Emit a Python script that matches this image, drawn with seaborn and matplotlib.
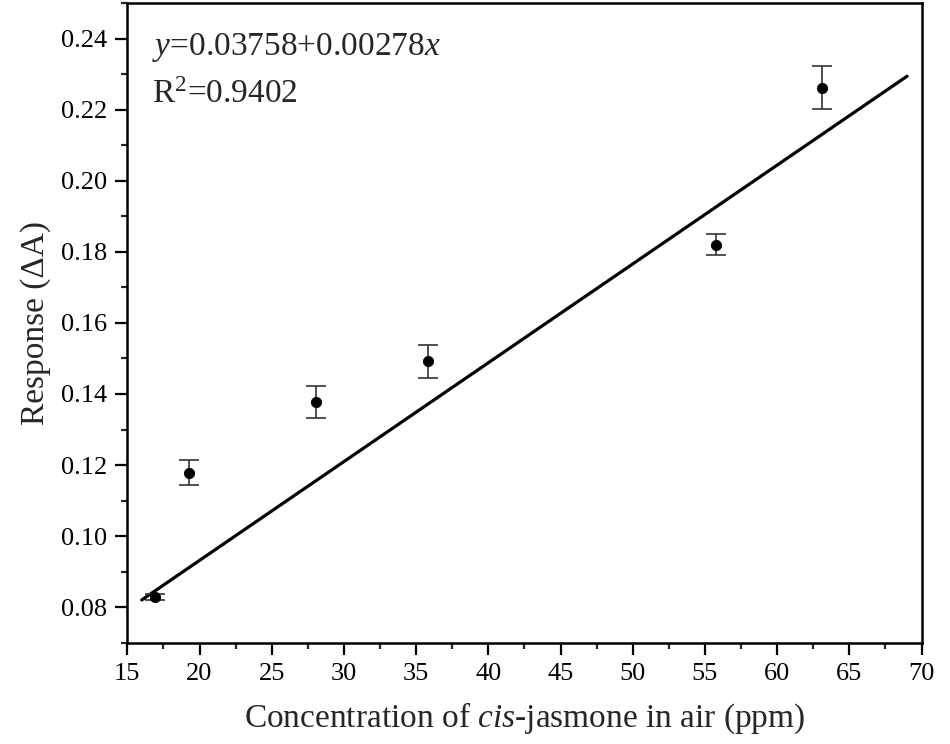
import numpy as np
import pandas as pd
import seaborn as sns
import matplotlib
matplotlib.use("Agg")
import matplotlib.pyplot as plt
from matplotlib.ticker import MultipleLocator, FormatStrFormatter

# veriler
conc = [16.9, 19.3, 28.1, 35.8, 55.8, 63.1]
response = [0.0829, 0.1179, 0.1378, 0.1492, 0.1820, 0.2262]
err = [0.0008, 0.0034, 0.0045, 0.0047, 0.0030, 0.0060]

# dogrusal uyum parametreleri
intercept = 0.03758
slope = 0.00278
fit_range = [16.0, 69.0]

df = pd.DataFrame({"conc": conc, "response": response, "err": err})
fit_x = np.array(fit_range)
fit_df = pd.DataFrame({"x": fit_x, "y": intercept + slope * fit_x})

sns.set_style("ticks")
plt.rcParams["font.family"] = ["Liberation Serif", "DejaVu Serif"]
plt.rcParams["mathtext.fontset"] = "custom"
plt.rcParams["mathtext.rm"] = "Liberation Serif"
plt.rcParams["mathtext.it"] = "Liberation Serif:italic"

fig = plt.figure(figsize=(9.5, 7.44), dpi=100)
ax = fig.add_axes([0.134, 0.136, 0.836, 0.86])

sns.lineplot(data=fit_df, x="x", y="y", color="black", linewidth=2.3, ax=ax)
ax.errorbar(df["conc"], df["response"], yerr=df["err"], fmt="none",
            ecolor="#333333", elinewidth=1.2, capsize=7, capthick=1.2)
sns.scatterplot(data=df, x="conc", y="response", color="black", s=55,
                edgecolor="black", ax=ax, zorder=3)

ax.set_xlim(15, 70)
ax.set_ylim(0.07, 0.25)
ax.xaxis.set_major_locator(MultipleLocator(5))
ax.xaxis.set_minor_locator(MultipleLocator(2.5))
ax.set_yticks(np.arange(0.08, 0.241, 0.02))
ax.yaxis.set_minor_locator(MultipleLocator(0.01))
ax.yaxis.set_major_formatter(FormatStrFormatter("%.2f"))

ax.tick_params(which="major", direction="out", length=8.5, width=1.6, pad=6,
               labelsize=19, colors="black", top=False, right=False)
ax.tick_params(which="minor", direction="out", length=4.5, width=1.6,
               top=False, right=False)
for sp in ax.spines.values():
    sp.set_linewidth(1.8)
    sp.set_color("black")
    sp.set_visible(True)

ax.set_xlabel("Concentration of $\\it{cis}$-jasmone in air (ppm)", fontsize=24, labelpad=11)
ax.set_ylabel("Response (ΔA)", fontsize=24, labelpad=7)

ax.text(0.031, 0.931, "$\\it{y}$=0.03758+0.00278$\\it{x}$", transform=ax.transAxes,
        fontsize=24, va="center")
ax.text(0.031, 0.856, "R$^2$=0.9402", transform=ax.transAxes, fontsize=24, va="center")

fig.savefig("out.png", dpi=100)
